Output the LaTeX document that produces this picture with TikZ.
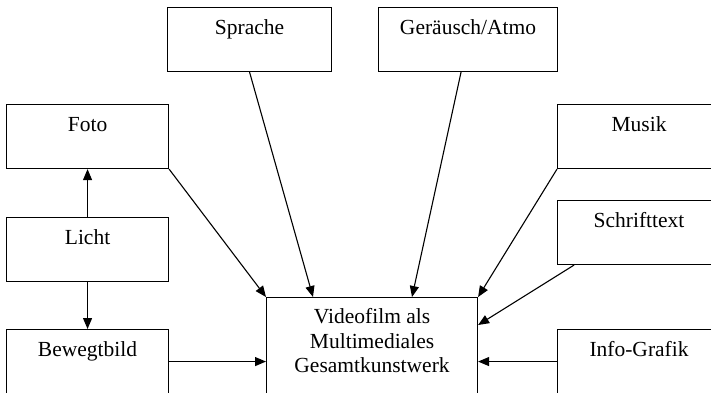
\documentclass[tikz,border=0pt]{standalone}
\usepackage{fontspec}
\setmainfont{Liberation Serif}
\usetikzlibrary{arrows.meta,positioning,calc}

\begin{document}
\begin{tikzpicture}[x=1pt, y=-1pt, every node/.style={font=\fontsize{21.5}{24.5}\selectfont},
    kasten/.style={draw, line width=1.1pt, inner sep=0pt, anchor=north west, text height=27pt, text depth=37pt},
    pfeil/.style={-{Triangle[length=11pt,width=9pt]}, line width=1.1pt}]
    \useasboundingbox (0,0) rectangle (711,392);
    \clip (0,0) rectangle (711,392);
    \node[kasten, minimum width=164pt] (sprache) at (167,7) {Sprache};
    \node[kasten, minimum width=179pt] (geraeusch) at (378,7) {Geräusch/Atmo};
    \node[kasten, minimum width=162pt] (foto) at (6,104) {Foto};
    \node[kasten, minimum width=162pt] (licht) at (6,217) {Licht};
    \node[kasten, minimum width=162pt] (bewegt) at (6,329) {Bewegtbild};
    \node[kasten, minimum width=163pt] (musik) at (557,104) {Musik};
    \node[kasten, minimum width=163pt] (schrift) at (557,200) {Schrifttext};
    \node[kasten, minimum width=163pt] (info) at (557,329) {Info-Grafik};
    \node[draw, line width=1.1pt, anchor=north west, minimum width=211pt, minimum height=110pt] (film) at (266,297) {};
    \node[anchor=north, align=center, inner sep=0pt] (filmtext) at ($(film.north)+(0,11.5)$) {Videofilm als\\Multimediales\\Gesamtkunstwerk};
    \draw[pfeil] (licht) -- (foto);
    \draw[pfeil] (licht) -- (bewegt);
    \draw[pfeil] (bewegt.east) -- (bewegt.east -| film.west);
    \draw[pfeil] (info.west) -- (info.west -| film.east);
    \draw[pfeil] (foto.south east) -- (film.north west);
    \draw[pfeil] (sprache.south) -- ($(film.north west)+(47,0)$);
    \draw[pfeil] ($(geraeusch.south)+(-7,0)$) -- ($(film.north west)+(146,0)$);
    \draw[pfeil] (musik.south west) -- (film.north east);
    \draw[pfeil] ($(schrift.south west)+(17,0)$) -- ($(film.north east)+(0,28)$);
\end{tikzpicture}
\end{document}
